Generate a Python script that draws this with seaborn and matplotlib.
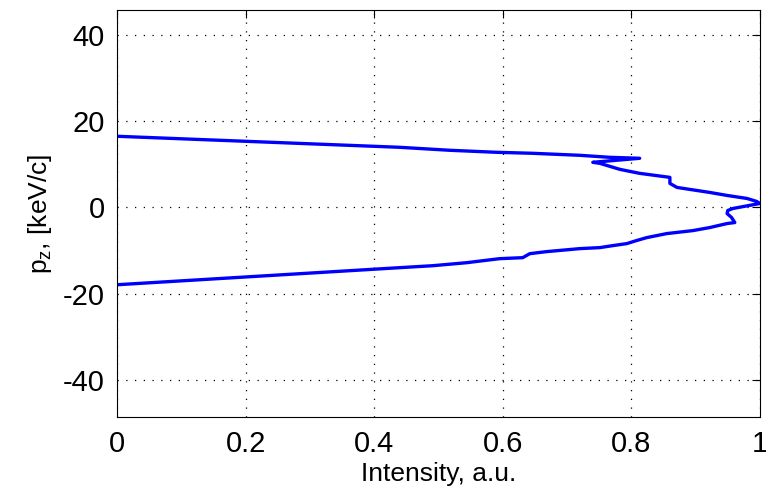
import numpy as np
import pandas as pd
import matplotlib
matplotlib.use("Agg")
import matplotlib.pyplot as plt
import seaborn as sns

# Data (intensity vs p_z, path order)
intensity = [0.0, 0.439, 0.517, 0.590, 0.646, 0.720, 0.766, 0.813, 0.740, 0.751,
             0.782, 0.813, 0.860, 0.860, 0.871, 0.891, 0.922, 0.949, 0.980, 0.995,
             1.000, 0.958, 0.950, 0.949, 0.956, 0.961, 0.949, 0.922, 0.896, 0.855,
             0.824, 0.808, 0.793, 0.771, 0.751, 0.720, 0.668, 0.642, 0.631, 0.595,
             0.544, 0.491, 0.439, 0.0]
pz = [16.5, 13.95, 13.26, 12.79, 12.56, 12.09, 11.63, 11.4, 10.47, 10.23,
      8.84, 7.91, 6.98, 5.58, 4.65, 4.19, 3.49, 2.79, 2.09, 1.40,
      0.93, -0.23, -0.70, -1.40, -2.33, -3.49, -3.72, -4.65, -5.35, -6.05,
      -6.98, -7.67, -8.37, -8.84, -9.30, -9.53, -10.23, -10.70, -11.63, -11.86,
      -12.79, -13.49, -13.95, -17.9]
xticks = [0, 0.2, 0.4, 0.6, 0.8, 1]
xticklabels = ["0", "0.2", "0.4", "0.6", "0.8", "1"]
yticks = [-40, -20, 0, 20, 40]
yticklabels = ["-40", "-20", "0", "20", "40"]

df = pd.DataFrame({"Intensity": intensity, "pz": pz})

sns.set_style("white")
plt.rcParams['font.family'] = ['Liberation Sans', 'DejaVu Sans']
plt.rcParams['mathtext.fontset'] = 'custom'
plt.rcParams['mathtext.rm'] = 'Liberation Sans'
plt.rcParams['mathtext.it'] = 'Liberation Sans'
plt.rcParams['axes.unicode_minus'] = False

fig = plt.figure(figsize=(7.66, 4.92), dpi=100)
ax = fig.add_axes([0.153, 0.152, 0.839, 0.828])

sns.lineplot(data=df, x="Intensity", y="pz", sort=False, estimator=None,
             color=(0, 0, 1), linewidth=2.4, ax=ax)

ax.set_xlim(0, 1)
ax.set_ylim(-48.6, 45.8)
ax.set_xticks(xticks)
ax.set_xticklabels(xticklabels)
ax.set_yticks(yticks)
ax.set_yticklabels(yticklabels)
ax.grid(True, color='black', linestyle=(0, (1, 6)), linewidth=0.9)
ax.tick_params(direction='in', length=6, width=0.8, top=True, right=True,
               labelsize=21, colors='black', pad=9)
for s in ax.spines.values():
    s.set_visible(True)
    s.set_color('black')
    s.set_linewidth(0.8)
ax.set_xlabel("Intensity, a.u.", fontsize=19, labelpad=3, color='black')
ax.set_ylabel("p$_\\mathregular{z}$, [keV/c]", fontsize=19, labelpad=6, color='black')

fig.savefig("out.png", dpi=100)
